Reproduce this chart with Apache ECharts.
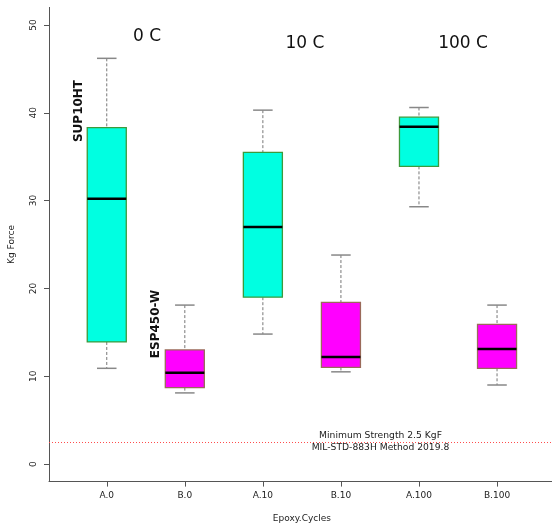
<!DOCTYPE html>
<html>
<head>
<meta charset="utf-8">
<script src="https://cdn.jsdelivr.net/npm/echarts@6/dist/echarts.min.js"></script>
<style>
  html, body { margin: 0; padding: 0; background: #fff; }
  #chart { width: 552px; height: 524px; }
</style>
</head>
<body>
<div id="chart"></div>
<script>
// box stats
const categories = ['A.0', 'B.0', 'A.10', 'B.10', 'A.100', 'B.100'];
const whiskerLow = [10.9, 8.1, 14.8, 10.5, 29.3, 9.0];
const q1 = [13.9, 8.7, 19.0, 11.0, 33.9, 10.9];
const median = [30.2, 10.4, 27.0, 12.2, 38.4, 13.1];
const q3 = [38.3, 13.0, 35.5, 18.4, 39.5, 15.9];
const whiskerHigh = [46.2, 18.1, 40.3, 23.8, 40.6, 18.1];
const yTicks = [0, 10, 20, 30, 40, 50];
const minStrength = 2.5;

const FONT = 'DejaVu Sans';
const fills = ['#00ffe1', '#ff00ff'];
const borders = ['#3c9a3c', '#9a6a5a'];

const boxData = categories.map((c, i) => [i + 1, whiskerLow[i], q1[i], median[i], q3[i], whiskerHigh[i]]);

function renderBox(params, api) {
  const x = api.value(0);
  const lo = api.coord([x, api.value(1)]);
  const b1 = api.coord([x, api.value(2)]);
  const md = api.coord([x, api.value(3)]);
  const b3 = api.coord([x, api.value(4)]);
  const hi = api.coord([x, api.value(5)]);
  const band = api.size([1, 0])[0];
  const w = band * 0.5;
  const cw = band * 0.25;
  const cx = lo[0];
  const k = params.dataIndex % 2;
  const dash = { stroke: '#777', lineWidth: 1, lineDash: [3, 2] };
  const cap = { stroke: '#888', lineWidth: 1.5 };
  return {
    type: 'group',
    children: [
      { type: 'line', shape: { x1: cx, y1: hi[1], x2: cx, y2: b3[1] }, style: dash },
      { type: 'line', shape: { x1: cx, y1: b1[1], x2: cx, y2: lo[1] }, style: dash },
      { type: 'line', shape: { x1: cx - cw / 2, y1: hi[1], x2: cx + cw / 2, y2: hi[1] }, style: cap },
      { type: 'line', shape: { x1: cx - cw / 2, y1: lo[1], x2: cx + cw / 2, y2: lo[1] }, style: cap },
      {
        type: 'rect',
        shape: { x: cx - w / 2, y: b3[1], width: w, height: b1[1] - b3[1] },
        style: { fill: fills[k], stroke: borders[k], lineWidth: 1.3 }
      },
      { type: 'line', shape: { x1: cx - w / 2, y1: md[1], x2: cx + w / 2, y2: md[1] }, style: { stroke: '#000', lineWidth: 2.5 } }
    ]
  };
}

const chart = echarts.init(document.getElementById('chart'), null, { renderer: 'canvas', width: 552, height: 524 });
const option = {
  backgroundColor: '#fff',
  animation: false,
  textStyle: { fontFamily: FONT },
  grid: { left: 49, top: 7.4, width: 505.8, height: 474.2, containLabel: false, outerBoundsMode: 'none' },
  xAxis: {
    type: 'value',
    min: 0.26,
    max: 6.74,
    name: 'Epoxy.Cycles',
    nameLocation: 'middle',
    nameGap: 33,
    nameTextStyle: { fontFamily: FONT, fontSize: 9, color: '#222' },
    axisLine: { show: true, onZero: false, lineStyle: { color: '#555', width: 1 } },
    axisTick: { show: true, length: 5, customValues: [1, 2, 3, 4, 5, 6], lineStyle: { color: '#555' } },
    axisLabel: {
      customValues: [1, 2, 3, 4, 5, 6],
      margin: 10,
      fontFamily: FONT,
      fontSize: 9,
      color: '#222',
      formatter: v => categories[Math.round(v) - 1]
    },
    splitLine: { show: false }
  },
  yAxis: {
    type: 'value',
    min: -2,
    max: 52,
    name: 'Kg Force',
    nameLocation: 'middle',
    nameGap: 33,
    nameRotate: 90,
    nameTextStyle: { fontFamily: FONT, fontSize: 9, color: '#222' },
    axisLine: { show: true, onZero: false, lineStyle: { color: '#555', width: 1 } },
    axisTick: { show: true, length: 5, customValues: yTicks, lineStyle: { color: '#555' } },
    axisLabel: { customValues: yTicks, rotate: 90, margin: 11, fontFamily: FONT, fontSize: 9, color: '#222' },
    splitLine: { show: false }
  },
  series: [
    {
      type: 'custom',
      renderItem: renderBox,
      data: boxData,
      encode: { x: 0, y: [1, 2, 3, 4, 5] },
      silent: true
    },
    {
      type: 'line',
      data: [],
      silent: true,
      color: '#ff4d4d',
      markLine: {
        silent: true,
        symbol: 'none',
        label: { show: false },
        itemStyle: { color: '#ff4d4d' },
        lineStyle: { color: '#ff4d4d', type: [1, 2], width: 1 },
        data: [{ yAxis: minStrength, lineStyle: { color: '#ff4d4d' } }]
      }
    }
  ],
  graphic: [
    { type: 'text', x: 147, y: 37, style: { text: '0 C', font: '17px ' + FONT, fill: '#111', textAlign: 'center', textVerticalAlign: 'middle' } },
    { type: 'text', x: 305, y: 44, style: { text: '10 C', font: '17px ' + FONT, fill: '#111', textAlign: 'center', textVerticalAlign: 'middle' } },
    { type: 'text', x: 463, y: 44, style: { text: '100 C', font: '17px ' + FONT, fill: '#111', textAlign: 'center', textVerticalAlign: 'middle' } },
    { type: 'text', x: 78.5, y: 111, rotation: Math.PI / 2, style: { text: 'SUP10HT', font: 'bold 12px ' + FONT, fill: '#111', textAlign: 'center', textVerticalAlign: 'middle' } },
    { type: 'text', x: 156, y: 324, rotation: Math.PI / 2, style: { text: 'ESP450-W', font: 'bold 12px ' + FONT, fill: '#111', textAlign: 'center', textVerticalAlign: 'middle' } },
    { type: 'text', x: 380.5, y: 436, style: { text: 'Minimum Strength 2.5 KgF', font: '9.2px ' + FONT, fill: '#222', textAlign: 'center', textVerticalAlign: 'middle' } },
    { type: 'text', x: 380.5, y: 448, style: { text: 'MIL-STD-883H Method 2019.8', font: '9.2px ' + FONT, fill: '#222', textAlign: 'center', textVerticalAlign: 'middle' } }
  ]
};
chart.setOption(option);
</script>
</body>
</html>
